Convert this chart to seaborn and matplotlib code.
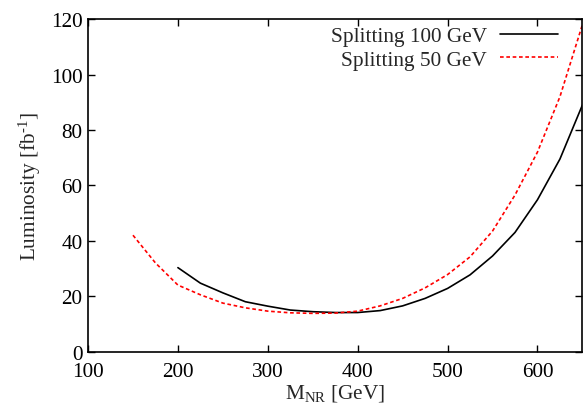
import matplotlib
matplotlib.use("Agg")
import matplotlib.pyplot as plt
import seaborn as sns
import pandas as pd

# Data
mass_100 = [200, 225, 250, 275, 300, 325, 350, 375, 400, 425, 450, 475, 500,
            525, 550, 575, 600, 625, 650]
lumi_100 = [30.3, 24.7, 21.2, 18.0, 16.4, 15.0, 14.4, 14.1, 14.1, 14.8, 16.5,
            19.2, 22.8, 27.7, 34.5, 43.0, 54.8, 69.5, 89.0]
mass_50 = [150, 175, 200, 225, 250, 275, 300, 325, 350, 375, 400, 425, 450,
           475, 500, 525, 550, 575, 600, 625, 650]
lumi_50 = [42.0, 32.0, 24.0, 20.5, 17.5, 15.8, 14.6, 14.0, 13.8, 13.9, 14.6,
           16.5, 19.2, 23.0, 27.8, 34.2, 43.5, 56.5, 72.0, 92.0, 118.0]
label_100 = "Splitting 100 GeV"
label_50 = "Splitting 50 GeV"
x_ticks = [100, 200, 300, 400, 500, 600]
y_ticks = [0, 20, 40, 60, 80, 100, 120]

sns.set_theme(style="ticks")
plt.rcParams['font.family'] = ['Liberation Serif', 'DejaVu Serif']
plt.rcParams['mathtext.fontset'] = 'custom'
plt.rcParams['mathtext.rm'] = 'Liberation Serif'
plt.rcParams['mathtext.it'] = 'Liberation Serif'

df100 = pd.DataFrame({"M": mass_100, "L": lumi_100})
df50 = pd.DataFrame({"M": mass_50, "L": lumi_50})

fs = 15.3

fig = plt.figure(figsize=(5.83, 4.10), dpi=100)
ax = fig.add_axes([0.151, 0.140, 0.848, 0.811])

sns.lineplot(data=df100, x="M", y="L", ax=ax, color="black", lw=1.2,
             label=label_100)
sns.lineplot(data=df50, x="M", y="L", ax=ax, color="#ff0000", lw=1.2,
             label=label_50, dashes=False)
ax.lines[1].set_linestyle((0, (2.2, 1.6)))

ax.set_xlim(100, 650)
ax.set_ylim(0, 120)
ax.set_xticks(x_ticks)
ax.set_yticks(y_ticks)
ax.tick_params(direction="in", length=5, width=1, top=True, right=True,
               labelsize=fs, colors="black")
ax.tick_params(axis="x", pad=7.5)
ax.tick_params(axis="y", pad=4)
for s in ax.spines.values():
    s.set_visible(True)
    s.set_linewidth(1.2)
    s.set_color("black")

ax.set_xlabel(r"M$_{\rm NR}$ [GeV]", fontsize=fs, labelpad=1)
ax.set_ylabel(r"Luminosity [fb$^{\text{-}1}$]", fontsize=fs, labelpad=6)

leg = ax.legend(loc="upper right", markerfirst=False, frameon=False,
                fontsize=fs, handlelength=2.75, handletextpad=0.6,
                labelspacing=0.15, borderaxespad=0.0,
                bbox_to_anchor=(0.968, 1.003))

fig.savefig("out.png", dpi=100)
